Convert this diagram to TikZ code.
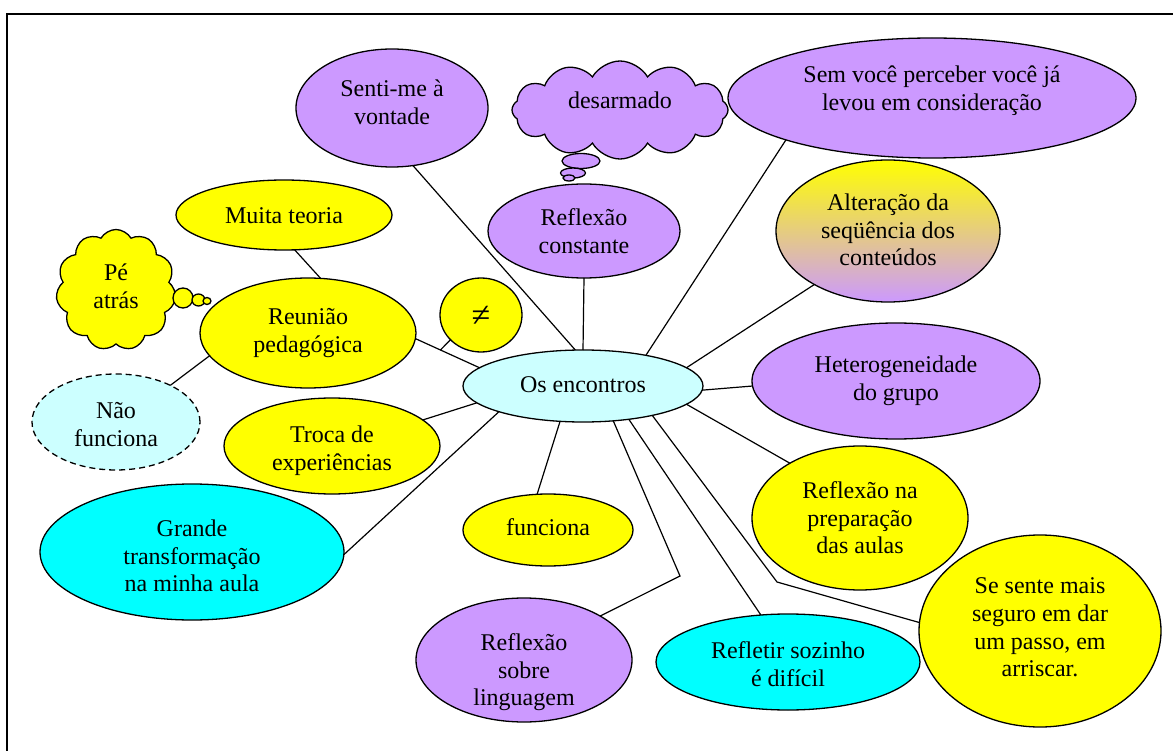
\documentclass[tikz,border=0pt]{standalone}
\usepackage{fontspec}
\setmainfont{Liberation Serif}
\usetikzlibrary{shapes.geometric,shapes.symbols,calc}

\definecolor{lilac}{HTML}{CC99FF}
\definecolor{sun}{HTML}{FFFF00}
\definecolor{aqua}{HTML}{00FFFF}
\definecolor{paleaqua}{HTML}{CCFFFF}

% centred block of lines whose height does not set the size of its shape;
% #1 moves the block down from the shape's centre
\newcommand\ctext[2]{\raisebox{\dimexpr-9pt-(#1)\relax}[8pt][8pt]{\begin{tabular}{@{}c@{}}#2\end{tabular}}}

\tikzset{
  bub/.style={ellipse, draw, line width=1.3pt, inner sep=0pt, outer sep=0pt},
  thought/.style={cloud, cloud ignores aspect, draw, line width=1.3pt, inner sep=0pt, outer sep=0pt},
  link/.style={line width=1.2pt},
}

\begin{document}
\begin{tikzpicture}[x=1pt, y=-1pt, font=\fontsize{24}{27.6}\selectfont]
\useasboundingbox (0,0) rectangle (1173,751);

% page frame
\draw[line width=1.5pt] (7,751) -- (7,14) -- (1173,14);

% central topic
\node[bub, fill=paleaqua, minimum width=240pt, minimum height=72pt] (os) at (583,386) {\ctext{-2pt}{Os encontros}};

% upper ideas
\node[bub, fill=lilac, minimum width=192pt, minimum height=118pt] (senti) at (392,108) {\ctext{-6pt}{Senti-me à\\vontade}};
\node[thought, cloud puffs=12, cloud puff arc=120, fill=lilac, minimum width=216pt, minimum height=98pt] (desarm) at (620,110) {\ctext{-10pt}{desarmado}};
\node[bub, fill=lilac, minimum width=38pt, minimum height=15pt] (desb1) at (581,161) {};
\node[bub, fill=lilac, minimum width=25pt, minimum height=10pt] (desb2) at (573,173) {};
\node[bub, fill=lilac, minimum width=12pt, minimum height=6pt] (desb3) at (569,178) {};
\node[bub, fill=lilac, minimum width=408pt, minimum height=120pt] (semvoce) at (932,98) {\ctext{-10pt}{Sem você perceber você já\\levou em consideração}};
\node[bub, fill=lilac, minimum width=192pt, minimum height=94pt] (reflc) at (584,231) {\ctext{0pt}{Reflexão\\constante}};
\node[bub, top color=sun, bottom color=lilac, minimum width=224pt, minimum height=142pt] (alter) at (888,231) {\ctext{-1pt}{Alteração da\\seqüência dos\\conteúdos}};

% left ideas
\node[bub, fill=sun, minimum width=216pt, minimum height=70pt] (muita) at (284,215) {\ctext{0pt}{Muita teoria}};
\node[thought, cloud puffs=11, cloud puff arc=120, fill=sun, minimum width=120pt, minimum height=121pt] (pe) at (116,290) {\ctext{-4pt}{Pé\\atrás}};
\node[bub, fill=sun, minimum width=20pt, minimum height=20pt] (peb1) at (183,298) {};
\node[bub, fill=sun, minimum width=13pt, minimum height=12pt] (peb2) at (198.5,300) {};
\node[bub, fill=sun, minimum width=8pt, minimum height=7pt] (peb3) at (207,301) {};
\node[bub, fill=sun, minimum width=216pt, minimum height=110pt] (reun) at (308,333) {\ctext{-3pt}{Reunião\\pedagógica}};
\node[bub, fill=sun, minimum width=82pt, minimum height=74pt] (neq) at (481,315) {\ctext{3pt}{\fontsize{34}{34}\selectfont ≠}};
\node[bub, fill=paleaqua, dash pattern=on 6pt off 4pt, minimum width=168pt, minimum height=96pt] (nao) at (116,422) {\ctext{2pt}{Não\\funciona}};
\node[bub, fill=sun, minimum width=216pt, minimum height=96pt] (troca) at (332,446) {\ctext{2pt}{Troca de\\experiências}};
\node[bub, fill=aqua, minimum width=304pt, minimum height=136pt] (grande) at (192,552) {\ctext{4pt}{Grande\\transformação\\na minha aula}};

% lower and right ideas
\node[bub, fill=lilac, minimum width=288pt, minimum height=116pt] (hetero) at (896,381) {\ctext{-2.5pt}{Heterogeneidade\\do grupo}};
\node[bub, fill=sun, minimum width=216pt, minimum height=144pt] (prep) at (860,518) {\ctext{0pt}{Reflexão na\\preparação\\das aulas}};
\node[bub, fill=sun, minimum width=242pt, minimum height=192pt] (seguro) at (1040,631) {\ctext{-4pt}{Se sente mais\\seguro em dar\\um passo, em\\arriscar.}};
\node[bub, fill=aqua, minimum width=264pt, minimum height=96pt] (sozinho) at (788,662) {\ctext{2pt}{Refletir sozinho\\é difícil}};
\node[bub, fill=lilac, minimum width=216pt, minimum height=124pt] (ling) at (524,660) {\ctext{10pt}{Reflexão\\sobre\\linguagem}};
\node[bub, fill=sun, minimum width=170pt, minimum height=72pt] (func) at (548,530) {\ctext{-3pt}{funciona}};

% bends of the two longer connectors
\coordinate (bendA) at (777,582);
\coordinate (bendB) at (680,576);

% connectors
\draw[link] (senti.290) -- (os.102);
\draw[link] (reflc.270) -- (os.90);
\draw[link] (semvoce.196) -- (os.26);
\draw[link] (alter.216) -- (os.10);
\draw[link] (hetero.182) -- (os.358);
\draw[link] (prep.142.6) -- (os.350.5);
\draw[link] (os.337) -- (bendA) -- (seguro.176);
\draw[link] (os.324) -- (sozinho.120);
\draw[link] (os.311) -- (bendB) -- (ling.30.5);
\draw[link] (os.237) -- (func.107);
\draw[link] (os.197) -- (grande.359);
\draw[link] (os.189) -- (troca.16.5);
\draw[link] (reun.357) -- (os.170);
\draw[link] (neq.219) -- ($(reun.357)!0.39!(os.170)$);
\draw[link] (muita.287) -- (reun.77.7);
\draw[link] (reun.193.4) -- (nao.34.4);
\end{tikzpicture}
\end{document}
